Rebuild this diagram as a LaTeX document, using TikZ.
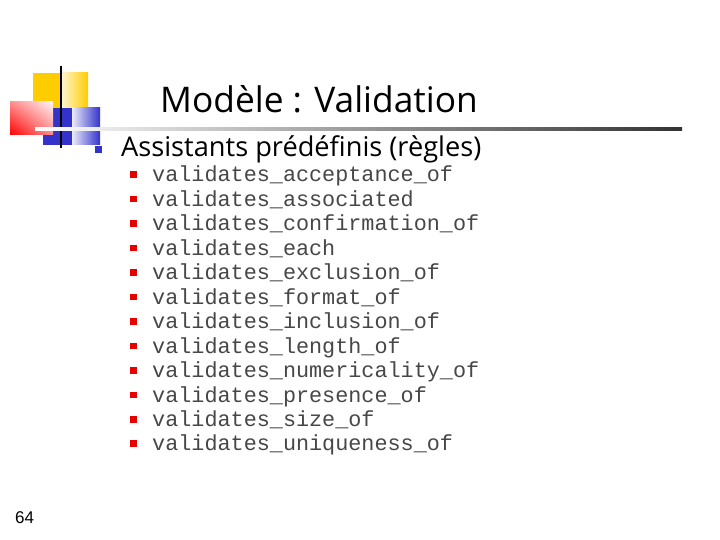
\documentclass[tikz,border=0pt]{standalone}
\usepackage{fontspec}
\setmainfont{Open Sans}
\setmonofont{Liberation Mono}
\newfontfamily\numfont{Liberation Sans}
\usetikzlibrary{positioning,shadings}
\definecolor{logoyellow}{RGB}{255,204,0}
\definecolor{logored}{RGB}{255,0,0}
\definecolor{logoblue}{RGB}{51,51,204}
\definecolor{bulred}{RGB}{230,0,0}
\newcommand{\bulone}{\textcolor{logoblue}{\rule[3.7pt]{7pt}{7pt}}\hspace{19pt}}
\newcommand{\bultwo}{\textcolor{bulred}{\rule[4pt]{6.5pt}{6.5pt}}\hspace{15.5pt}}

\begin{document}
\begin{tikzpicture}[x=1pt, y=-1pt,
    title/.style = {inner sep=0pt, anchor=base west, font=\fontsize{35.3}{40}\selectfont},
    point/.style = {inner sep=0pt, anchor=base west, font=\fontsize{27.2}{32}\selectfont},
    subpoint/.style = {inner sep=0pt, anchor=base west, text=black!72,
                       font=\ttfamily\fontsize{21.8}{24}\selectfont},
    nextrow/.style = {subpoint, below=24.45pt of #1.base west, anchor=base west},
    pagenum/.style = {inner sep=0pt, anchor=base west, font=\numfont\fontsize{17}{19}\selectfont}]
    \useasboundingbox (0,0) rectangle (720,540);
    % logo
    \fill [logoyellow] (33,73) rectangle (62,108);
    \shade [left color=logoyellow!20, right color=logoyellow] (62,73) rectangle (88,108);
    \fill [logoblue] (43,108) rectangle (72,145);
    \shade [left color=logoblue!10, right color=logoblue] (72,108) rectangle (100,145);
    \shade [upper left=logored!45, lower left=logored, upper right=logored!5, lower right=logored!45]
        (10,102) rectangle (53,135);
    \draw [line width=2pt] (61,66) -- (61,148);
    \shade [left color=white, right color=black!80] (35,128) rectangle (682,130.5);
    % texts
    \node [title] (head) at (160,113) {Modèle : Validation};
    \node [point] (rules) at (95,157) {\bulone Assistants prédéfinis (règles)};
    \node [subpoint] (v1) at (130,182) {\bultwo validates\_acceptance\_of};
    \node [nextrow=v1] (v2) {\bultwo validates\_associated};
    \node [nextrow=v2] (v3) {\bultwo validates\_confirmation\_of};
    \node [nextrow=v3] (v4) {\bultwo validates\_each};
    \node [nextrow=v4] (v5) {\bultwo validates\_exclusion\_of};
    \node [nextrow=v5] (v6) {\bultwo validates\_format\_of};
    \node [nextrow=v6] (v7) {\bultwo validates\_inclusion\_of};
    \node [nextrow=v7] (v8) {\bultwo validates\_length\_of};
    \node [nextrow=v8] (v9) {\bultwo validates\_numericality\_of};
    \node [nextrow=v9] (v10) {\bultwo validates\_presence\_of};
    \node [nextrow=v10] (v11) {\bultwo validates\_size\_of};
    \node [nextrow=v11] (v12) {\bultwo validates\_uniqueness\_of};
    \node [pagenum] (num) at (15,523) {64};
\end{tikzpicture}
\end{document}
